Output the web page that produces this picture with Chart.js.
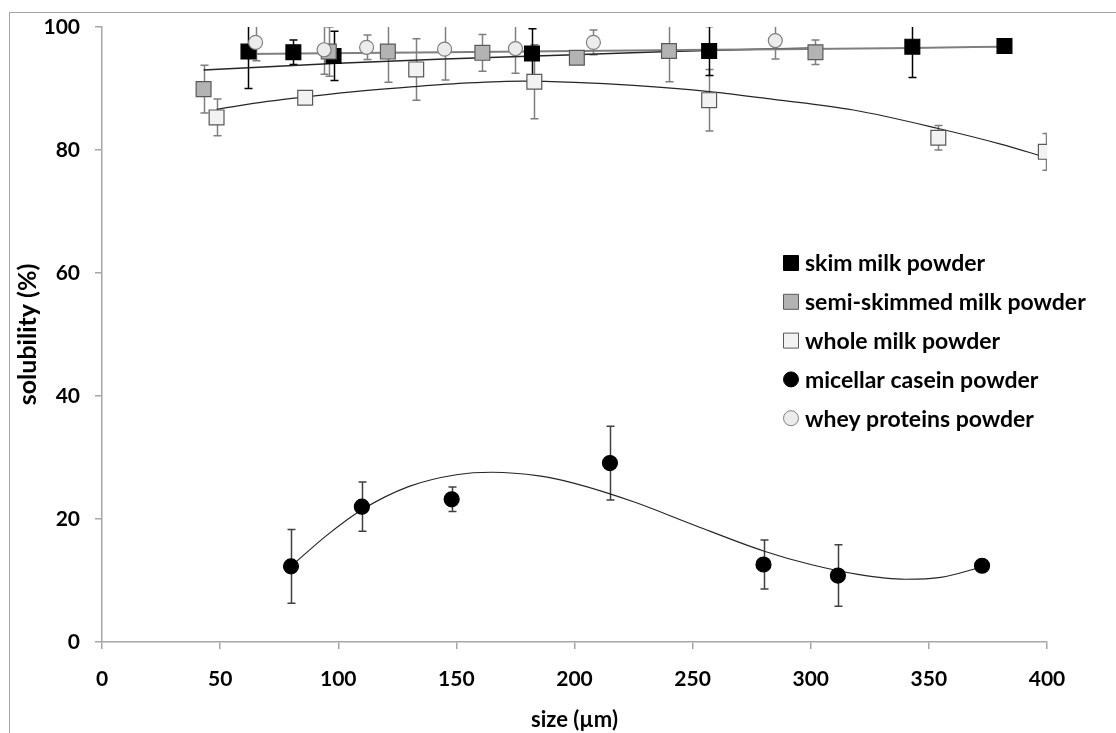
<!DOCTYPE html>
<html>
<head>
<meta charset="utf-8">
<script src="https://cdn.jsdelivr.net/npm/chart.js@4/dist/chart.umd.min.js"></script>
<style>
    body { margin: 0; background: #ffffff; overflow: hidden; }
    #wrap { position: relative; width: 1116px; height: 733px; }
    #frame { position: absolute; left: 9px; top: 12px; width: 1200px; height: 800px; border: 1px solid #a6a6a6; }
    #ChartSolubility { position: absolute; left: 0; top: 0; }
</style>
</head>
<body>
<div id="wrap">
    <div id="frame"></div>
    <canvas id="ChartSolubility" width="1116" height="733"></canvas>
</div>
<script>
// measured points (size in µm, solubility in %, +/- error)
const skimX = [62, 81, 98, 182, 257, 343, 382];
const skimY = [96.0, 95.9, 95.3, 95.7, 96.1, 96.8, 96.9];
const skimErr = [6, 2, 4, 4, 4, 5, 0];

const semiX = [43, 96, 121, 161, 201, 240, 302];
const semiY = [89.9, 96.0, 96.0, 95.8, 95.0, 96.1, 95.9];
const semiErr = [3.9, 4, 5, 3, 0, 5, 2];

const wholeX = [48.5, 86, 133, 183, 257, 354, 399.5];
const wholeY = [85.3, 88.5, 93.1, 91.1, 88.1, 82.0, 79.7];
const wholeErr = [3, 0, 5, 6, 5, 2, 3];

const caseinX = [80, 110, 148, 215, 280, 311.5, 372.5];
const caseinY = [12.3, 22.0, 23.2, 29.1, 12.6, 10.8, 12.4];
const caseinErr = [6, 4, 2, 6, 4, 5, 0];

const wheyX = [65, 94, 112, 145, 175, 208, 285];
const wheyY = [97.5, 96.3, 96.7, 96.4, 96.5, 97.5, 97.8];
const wheyErr = [3, 4, 2, 5, 4, 2, 3];

// trend curves
const skimFitX = [62, 145, 257, 343, 382];
const skimFitY = [95.6, 95.9, 96.3, 96.6, 96.8];

const semiFitX = [43, 100, 145, 200, 240, 302];
const semiFitY = [93.0, 94.1, 94.8, 95.5, 96.0, 96.6];

const wholeFitX = [48.5, 70, 90, 110, 132, 155, 178, 200, 225, 257, 285, 318, 354, 380, 399.5];
const wholeFitY = [86.6, 87.9, 88.8, 89.6, 90.3, 90.9, 91.2, 91.0, 90.5, 89.5, 88.2, 86.5, 83.5, 81.0, 78.8];

const caseinFitX = [80, 95, 110, 130, 150, 165, 185, 200, 225, 250, 280, 300, 320, 340, 355, 372.5];
const caseinFitY = [12.3, 17.3, 21.5, 25.3, 27.2, 27.6, 27.0, 25.8, 22.8, 19.1, 14.8, 12.6, 11.0, 10.2, 10.5, 12.2];

const xTicks = [0, 50, 100, 150, 200, 250, 300, 350, 400];
const yTicks = [0, 20, 40, 60, 80, 100];

const FONT = 'Lato';

function pts(xs, ys) {
    return xs.map((x, i) => ({ x: x, y: ys[i] }));
}

function markerSet(label, xs, ys, errs, style, fill, border, errColor, radius, order) {
    return {
        label: label,
        data: pts(xs, ys),
        errors: errs,
        errorColor: errColor,
        pointStyle: style,
        pointRadius: radius,
        backgroundColor: fill,
        borderColor: border,
        pointBorderWidth: 1.2,
        showLine: false,
        order: order
    };
}

function fitSet(xs, ys, color, width) {
    return {
        label: '',
        data: pts(xs, ys),
        showLine: true,
        pointRadius: 0,
        borderColor: color,
        borderWidth: width,
        cubicInterpolationMode: 'monotone',
        fill: false,
        order: 10
    };
}

const legendRows = [
    { label: 'skim milk powder', style: 'rect', fill: '#000000', border: '#000000' },
    { label: 'semi-skimmed milk powder', style: 'rect', fill: '#b3b3b3', border: '#595959' },
    { label: 'whole milk powder', style: 'rect', fill: '#f2f2f2', border: '#595959' },
    { label: 'micellar casein powder', style: 'circle', fill: '#000000', border: '#000000' },
    { label: 'whey proteins powder', style: 'circle', fill: '#ececec', border: '#7f7f7f' }
];

const errorBars = {
    id: 'errorBars',
    beforeDatasetsDraw(chart) {
        const { ctx, chartArea, scales: { x, y } } = chart;
        ctx.save();
        ctx.beginPath();
        ctx.rect(chartArea.left, chartArea.top, chartArea.right - chartArea.left, chartArea.bottom - chartArea.top);
        ctx.clip();
        chart.data.datasets.forEach(ds => {
            if (!ds.errors) return;
            ctx.strokeStyle = ds.errorColor;
            ctx.lineWidth = 1.5;
            ds.data.forEach((p, i) => {
                const e = ds.errors[i];
                if (!e) return;
                const px = Math.round(x.getPixelForValue(p.x)) + 0.5;
                const top = y.getPixelForValue(p.y + e);
                const bot = y.getPixelForValue(p.y - e);
                ctx.beginPath();
                ctx.moveTo(px, top);
                ctx.lineTo(px, bot);
                ctx.moveTo(px - 4, top);
                ctx.lineTo(px + 4, top);
                ctx.moveTo(px - 4, bot);
                ctx.lineTo(px + 4, bot);
                ctx.stroke();
            });
        });
        ctx.restore();
    }
};

const boxLegend = {
    id: 'boxLegend',
    afterDraw(chart) {
        const ctx = chart.ctx;
        ctx.save();
        ctx.font = 'bold 23px ' + FONT;
        ctx.textBaseline = 'middle';
        ctx.textAlign = 'left';
        legendRows.forEach((row, i) => {
            const cx = 791;
            const cy = 263 + i * 38.8;
            ctx.fillStyle = row.fill;
            ctx.strokeStyle = row.border;
            ctx.lineWidth = 1;
            ctx.beginPath();
            if (row.style === 'rect') {
                ctx.rect(cx - 7.5, cy - 7.5, 15, 15);
            } else {
                ctx.arc(cx, cy, 7.5, 0, Math.PI * 2);
            }
            ctx.fill();
            ctx.stroke();
            ctx.fillStyle = '#000000';
            ctx.fillText(row.label, 805, cy + 1);
        });
        ctx.restore();
    }
};

new Chart(document.getElementById('ChartSolubility'), {
    type: 'scatter',
    data: {
        datasets: [
            markerSet('whey proteins powder', wheyX, wheyY, wheyErr, 'circle', '#ececec', '#7f7f7f', '#7f7f7f', 7, 0),
            markerSet('micellar casein powder', caseinX, caseinY, caseinErr, 'circle', '#000000', '#000000', '#404040', 7.5, 1),
            markerSet('whole milk powder', wholeX, wholeY, wholeErr, 'rect', '#f2f2f2', '#595959', '#7f7f7f', 10.5, 2),
            markerSet('semi-skimmed milk powder', semiX, semiY, semiErr, 'rect', '#b3b3b3', '#595959', '#7f7f7f', 10.5, 3),
            markerSet('skim milk powder', skimX, skimY, skimErr, 'rect', '#000000', '#000000', '#000000', 10.5, 4),
            fitSet(skimFitX, skimFitY, '#7f7f7f', 2),
            fitSet(semiFitX, semiFitY, '#262626', 1.5),
            fitSet(wholeFitX, wholeFitY, '#262626', 1.2),
            fitSet(caseinFitX, caseinFitY, '#262626', 1.2)
        ]
    },
    options: {
        responsive: false,
        animation: false,
        events: [],
        layout: {
            padding: { left: 0, top: 27, right: 69, bottom: 0 }
        },
        plugins: {
            legend: { display: false },
            tooltip: { enabled: false }
        },
        scales: {
            x: {
                type: 'linear',
                min: 0,
                max: 400,
                afterBuildTicks: (scale) => { scale.ticks = xTicks.map(v => ({ value: v })); },
                afterFit: (scale) => { scale.height = 91; scale.paddingLeft = 0; scale.paddingRight = 0; },
                grid: { drawOnChartArea: false, drawTicks: true, tickLength: 7, color: '#a6a6a6', lineWidth: 1.5 },
                border: { display: true, color: '#a6a6a6', width: 1.5 },
                ticks: { color: '#000000', padding: 18, maxRotation: 0, font: { family: FONT, size: 21, weight: 'bold' } },
                title: { display: true, text: 'size (µm)', color: '#000000', padding: { top: 1, bottom: 0 }, font: { family: FONT, size: 22, weight: 'bold' } }
            },
            y: {
                type: 'linear',
                min: 0,
                max: 100,
                afterBuildTicks: (scale) => { scale.ticks = yTicks.map(v => ({ value: v })); },
                afterFit: (scale) => { scale.width = 102; scale.paddingTop = 0; scale.paddingBottom = 0; },
                grid: { drawOnChartArea: false, drawTicks: true, tickLength: 7, color: '#a6a6a6', lineWidth: 1.5 },
                border: { display: true, color: '#a6a6a6', width: 1.5 },
                ticks: { color: '#000000', padding: 15, font: { family: FONT, size: 21, weight: 'bold' } },
                title: { display: true, text: 'solubility (%)', color: '#000000', padding: { top: 13, bottom: 0 }, font: { family: FONT, size: 25, weight: 'bold' } }
            }
        }
    },
    plugins: [errorBars, boxLegend]
});
</script>
</body>
</html>
